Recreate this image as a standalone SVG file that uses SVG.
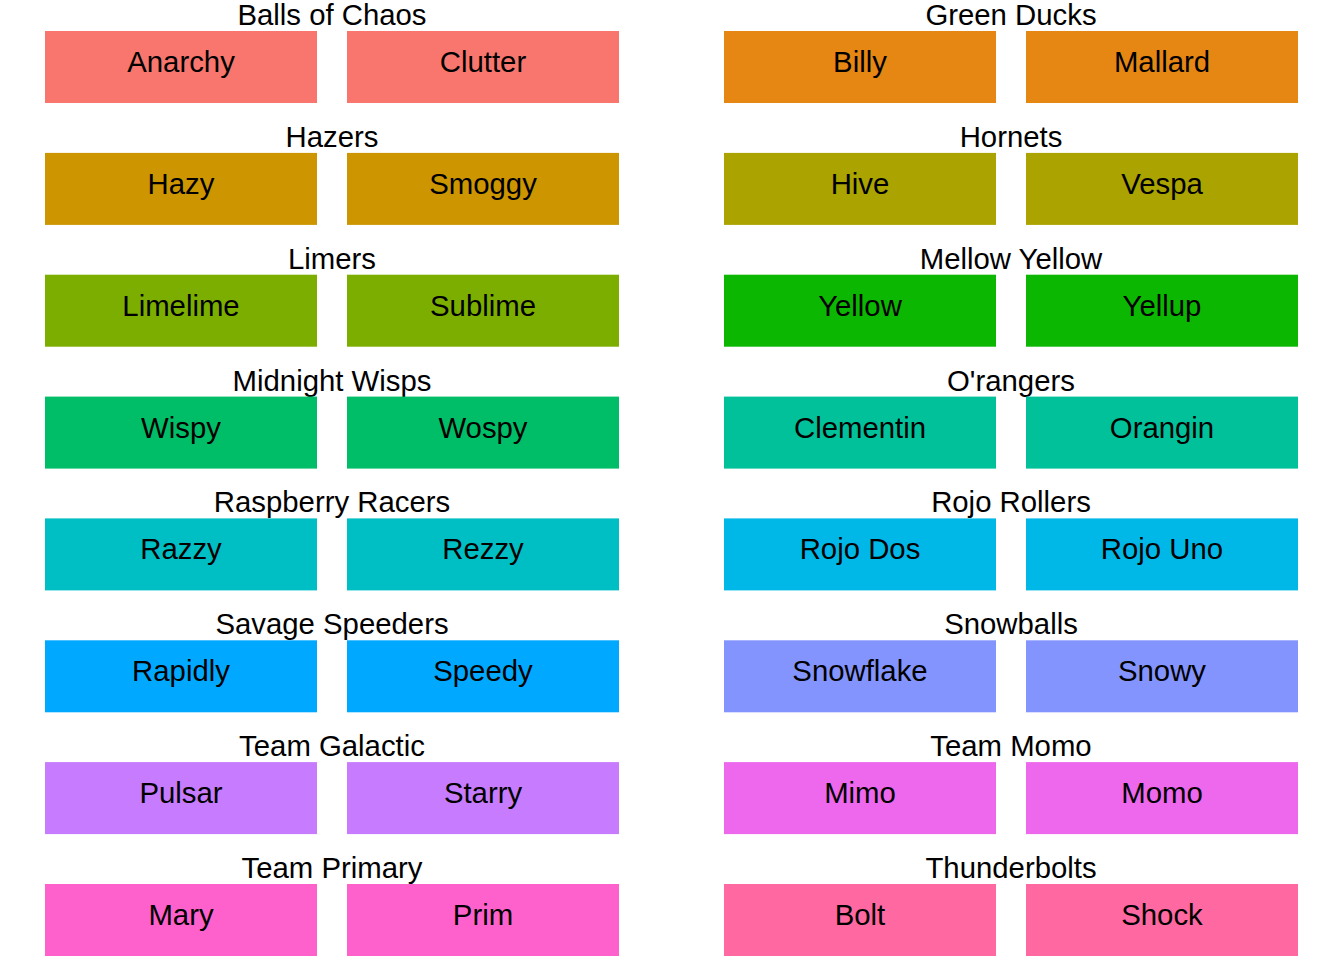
<svg xmlns="http://www.w3.org/2000/svg" width="1344" height="960" viewBox="0 0 1344 960">
<style>
text{font-family:"Liberation Sans",Arial,sans-serif;font-size:29.33px;fill:#000;text-anchor:middle}
</style>
<rect width="1344" height="960" fill="#fff"/>
<g id="balls-of-chaos"><text x="332" y="25">Balls of Chaos</text><rect x="45" y="31" width="272" height="72" fill="#F8766D"/><rect x="347" y="31" width="272" height="72" fill="#F8766D"/><text x="181" y="72">Anarchy</text><text x="483" y="72">Clutter</text></g>
<g id="green-ducks"><text x="1011" y="25">Green Ducks</text><rect x="724" y="31" width="272" height="72" fill="#E68613"/><rect x="1026" y="31" width="272" height="72" fill="#E68613"/><text x="860" y="72">Billy</text><text x="1162" y="72">Mallard</text></g>
<g id="hazers"><text x="332" y="146.9">Hazers</text><rect x="45" y="152.9" width="272" height="72" fill="#CD9600"/><rect x="347" y="152.9" width="272" height="72" fill="#CD9600"/><text x="181" y="193.9">Hazy</text><text x="483" y="193.9">Smoggy</text></g>
<g id="hornets"><text x="1011" y="146.9">Hornets</text><rect x="724" y="152.9" width="272" height="72" fill="#ABA300"/><rect x="1026" y="152.9" width="272" height="72" fill="#ABA300"/><text x="860" y="193.9">Hive</text><text x="1162" y="193.9">Vespa</text></g>
<g id="limers"><text x="332" y="268.7">Limers</text><rect x="45" y="274.7" width="272" height="72" fill="#7CAE00"/><rect x="347" y="274.7" width="272" height="72" fill="#7CAE00"/><text x="181" y="315.7">Limelime</text><text x="483" y="315.7">Sublime</text></g>
<g id="mellow-yellow"><text x="1011" y="268.7">Mellow Yellow</text><rect x="724" y="274.7" width="272" height="72" fill="#0CB702"/><rect x="1026" y="274.7" width="272" height="72" fill="#0CB702"/><text x="860" y="315.7">Yellow</text><text x="1162" y="315.7">Yellup</text></g>
<g id="midnight-wisps"><text x="332" y="390.6">Midnight Wisps</text><rect x="45" y="396.6" width="272" height="72" fill="#00BE67"/><rect x="347" y="396.6" width="272" height="72" fill="#00BE67"/><text x="181" y="437.6">Wispy</text><text x="483" y="437.6">Wospy</text></g>
<g id="orangers"><text x="1011" y="390.6">O'rangers</text><rect x="724" y="396.6" width="272" height="72" fill="#00C19A"/><rect x="1026" y="396.6" width="272" height="72" fill="#00C19A"/><text x="860" y="437.6">Clementin</text><text x="1162" y="437.6">Orangin</text></g>
<g id="raspberry-racers"><text x="332" y="512.4">Raspberry Racers</text><rect x="45" y="518.4" width="272" height="72" fill="#00BFC4"/><rect x="347" y="518.4" width="272" height="72" fill="#00BFC4"/><text x="181" y="559.4">Razzy</text><text x="483" y="559.4">Rezzy</text></g>
<g id="rojo-rollers"><text x="1011" y="512.4">Rojo Rollers</text><rect x="724" y="518.4" width="272" height="72" fill="#00B8E7"/><rect x="1026" y="518.4" width="272" height="72" fill="#00B8E7"/><text x="860" y="559.4">Rojo Dos</text><text x="1162" y="559.4">Rojo Uno</text></g>
<g id="savage-speeders"><text x="332" y="634.3">Savage Speeders</text><rect x="45" y="640.3" width="272" height="72" fill="#00A9FF"/><rect x="347" y="640.3" width="272" height="72" fill="#00A9FF"/><text x="181" y="681.3">Rapidly</text><text x="483" y="681.3">Speedy</text></g>
<g id="snowballs"><text x="1011" y="634.3">Snowballs</text><rect x="724" y="640.3" width="272" height="72" fill="#8494FF"/><rect x="1026" y="640.3" width="272" height="72" fill="#8494FF"/><text x="860" y="681.3">Snowflake</text><text x="1162" y="681.3">Snowy</text></g>
<g id="team-galactic"><text x="332" y="756.1">Team Galactic</text><rect x="45" y="762.1" width="272" height="72" fill="#C77CFF"/><rect x="347" y="762.1" width="272" height="72" fill="#C77CFF"/><text x="181" y="803.1">Pulsar</text><text x="483" y="803.1">Starry</text></g>
<g id="team-momo"><text x="1011" y="756.1">Team Momo</text><rect x="724" y="762.1" width="272" height="72" fill="#ED68ED"/><rect x="1026" y="762.1" width="272" height="72" fill="#ED68ED"/><text x="860" y="803.1">Mimo</text><text x="1162" y="803.1">Momo</text></g>
<g id="team-primary"><text x="332" y="878">Team Primary</text><rect x="45" y="884" width="272" height="72" fill="#FF61CC"/><rect x="347" y="884" width="272" height="72" fill="#FF61CC"/><text x="181" y="925">Mary</text><text x="483" y="925">Prim</text></g>
<g id="thunderbolts"><text x="1011" y="878">Thunderbolts</text><rect x="724" y="884" width="272" height="72" fill="#FF68A1"/><rect x="1026" y="884" width="272" height="72" fill="#FF68A1"/><text x="860" y="925">Bolt</text><text x="1162" y="925">Shock</text></g>
<g id="connectors"/>
</svg>
